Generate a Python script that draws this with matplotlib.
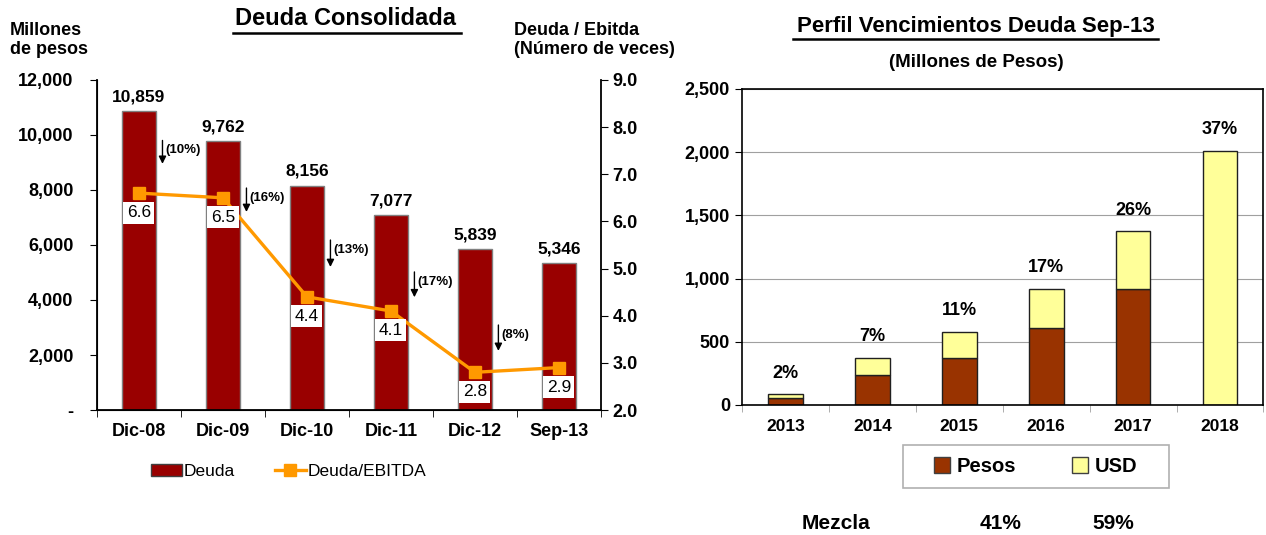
import matplotlib.pyplot as plt
from matplotlib.patches import Rectangle
from matplotlib.ticker import FuncFormatter, FixedLocator

plt.rcParams['font.family'] = ['Liberation Sans', 'DejaVu Sans']

# Deuda consolidada
periodos = ['Dic-08', 'Dic-09', 'Dic-10', 'Dic-11', 'Dic-12', 'Sep-13']
deuda = [10859, 9762, 8156, 7077, 5839, 5346]
deuda_ebitda = [6.6, 6.5, 4.4, 4.1, 2.8, 2.9]
variaciones = ['(10%)', '(16%)', '(13%)', '(17%)', '(8%)']
# top / bottom of each variation arrow (millones de pesos)
flecha_top = [9800, 8070, 6180, 5020, 3090]
flecha_bot = [8950, 7200, 5200, 4100, 2150]

# Perfil de vencimientos
anios = ['2013', '2014', '2015', '2016', '2017', '2018']
pesos = [53, 237, 371, 608, 918, 0]
usd = [31, 136, 208, 310, 458, 2010]
porcentajes = ['2%', '7%', '11%', '17%', '26%', '37%']
mezcla = ['41%', '59%']

ROJO = '#990000'
NARANJA = '#FF9900'
CAFE = '#993300'
AMARILLO = '#FFFF99'

fig = plt.figure(figsize=(12.66, 5.35), dpi=100)

# ---------------- left chart ----------------
ax = fig.add_axes([0.0766, 0.2336, 0.398, 0.617])
x = list(range(len(periodos)))
ax.bar(x, deuda, width=0.4, color=ROJO, edgecolor='#808080', linewidth=1.0, zorder=2)
ax.set_xlim(-0.5, len(periodos) - 0.5)
ax.set_ylim(0, 12000)
ax.set_yticks(range(0, 12001, 2000))
ax.yaxis.set_major_formatter(FuncFormatter(lambda v, p: '-' if v == 0 else f'{int(v):,}'))
ax.set_xticks(x)
ax.set_xticklabels(periodos, fontsize=13, fontweight='bold')
ax.xaxis.set_minor_locator(FixedLocator([i - 0.5 for i in range(len(periodos) + 1)]))
ax.tick_params(axis='x', which='major', length=0, pad=9)
ax.tick_params(axis='x', which='minor', length=5, color='black')
ax.tick_params(axis='y', labelsize=13, length=5, pad=12, direction='out')
for lbl in ax.get_yticklabels():
    lbl.set_fontweight('bold')
ax.spines['top'].set_visible(False)
ax.spines['right'].set_visible(False)
ax.spines['left'].set_linewidth(1.3)
ax.spines['bottom'].set_linewidth(1.3)

for xi, v in zip(x, deuda):
    ax.annotate(f'{v:,}', (xi, v), xytext=(0, 5), textcoords='offset points',
                ha='center', va='bottom', fontsize=12.5, fontweight='bold')

for i, txt in enumerate(variaciones):
    xa = i + 0.28
    ax.annotate('', xy=(xa, flecha_bot[i]), xytext=(xa, flecha_top[i]),
                arrowprops=dict(arrowstyle='-|>', color='black', lw=1.0,
                                mutation_scale=11, shrinkA=0, shrinkB=0), zorder=4)
    ax.text(xa + 0.03, flecha_top[i] - 350, txt, fontsize=9.5, fontweight='bold',
            ha='left', va='center', zorder=4)

ax2 = ax.twinx()
ax2.plot(x, deuda_ebitda, color=NARANJA, lw=2.4, marker='s', markersize=8, zorder=3)
ax2.set_ylim(2.0, 9.0)
ax2.set_yticks([2, 3, 4, 5, 6, 7, 8, 9])
ax2.yaxis.set_major_formatter(FuncFormatter(lambda v, p: f'{v:.1f}'))
ax2.tick_params(axis='y', labelsize=13, length=5, direction='out')
for lbl in ax2.get_yticklabels():
    lbl.set_fontweight('bold')
ax2.spines['top'].set_visible(False)
ax2.spines['right'].set_linewidth(1.3)
for xi, v in zip(x, deuda_ebitda):
    ax2.annotate(f'{v:.1f}', (xi, v), xytext=(0, -14), textcoords='offset points',
                 ha='center', va='center', fontsize=12.5, zorder=5,
                 bbox=dict(boxstyle='square,pad=0.2', fc='white', ec='none'))

fig.text(0.273, 0.965, 'Deuda Consolidada', ha='center', va='center',
         fontsize=17, fontweight='bold')
fig.add_artist(plt.Line2D([0.184, 0.364], [0.939, 0.939], color='black', lw=1.8))
fig.text(0.008, 0.925, 'Millones\nde pesos', ha='left', va='center',
         fontsize=13, fontweight='bold', linespacing=1.2)
fig.text(0.406, 0.925, 'Deuda / Ebitda\n(Número de veces)', ha='left', va='center',
         fontsize=13, fontweight='bold', linespacing=1.2)

h1 = Rectangle((0, 0), 1, 1, fc=ROJO, ec='#404040')
h2 = plt.Line2D([], [], color=NARANJA, lw=2.4, marker='s', markersize=8)
fig.legend([h1, h2], ['Deuda', 'Deuda/EBITDA'], loc='center',
           bbox_to_anchor=(0.228, 0.118), ncol=2, frameon=False, fontsize=12.5,
           handlelength=1.8, handletextpad=0.1, columnspacing=2.3)

# ---------------- right chart ----------------
bx = fig.add_axes([0.586, 0.243, 0.412, 0.5907])
xb = list(range(len(anios)))
bx.bar(xb, pesos, width=0.4, color=CAFE, edgecolor='#202020', linewidth=1.0, zorder=2)
bx.bar(xb, usd, width=0.4, bottom=pesos, color=AMARILLO, edgecolor='#202020',
       linewidth=1.0, zorder=2)
bx.set_xlim(-0.5, len(anios) - 0.5)
bx.set_ylim(0, 2500)
bx.set_yticks(range(0, 2501, 500))
bx.yaxis.set_major_formatter(FuncFormatter(lambda v, p: f'{int(v):,}'))
bx.grid(axis='y', color='#A0A0A0', lw=0.8, zorder=0)
bx.set_xticks(xb)
bx.set_xticklabels(anios, fontsize=12.5, fontweight='bold')
bx.xaxis.set_minor_locator(FixedLocator([i - 0.5 for i in range(len(anios) + 1)]))
bx.tick_params(axis='x', which='major', length=0, pad=10)
bx.tick_params(axis='x', which='minor', length=5, color='#A0A0A0')
bx.tick_params(axis='y', labelsize=13, length=5, direction='out')
for lbl in bx.get_yticklabels():
    lbl.set_fontweight('bold')
for s in bx.spines.values():
    s.set_linewidth(1.2)

for xi, p, u, t in zip(xb, pesos, usd, porcentajes):
    bx.annotate(t, (xi, p + u), xytext=(0, 9), textcoords='offset points',
                ha='center', va='bottom', fontsize=13, fontweight='bold')

fig.text(0.771, 0.951, 'Perfil Vencimientos Deuda Sep-13', ha='center', va='center',
         fontsize=16, fontweight='bold')
fig.add_artist(plt.Line2D([0.626, 0.915], [0.928, 0.928], color='black', lw=1.8))
fig.text(0.771, 0.884, '(Millones de Pesos)', ha='center', va='center',
         fontsize=13.5, fontweight='bold')

fig.add_artist(Rectangle((0.713, 0.088), 0.21, 0.08, transform=fig.transFigure,
                         fc='white', ec='#B0B0B0', lw=1.2))
hp = Rectangle((0, 0), 1, 1, fc=CAFE, ec='#404040')
hu = Rectangle((0, 0), 1, 1, fc=AMARILLO, ec='#404040')
fig.legend([hp, hu], ['Pesos', 'USD'], loc='center', bbox_to_anchor=(0.818, 0.128),
           ncol=2, frameon=False, prop={'size': 14.5, 'weight': 'bold'},
           handlelength=0.8, handleheight=0.8, handletextpad=0.3, columnspacing=2.8)

fig.text(0.66, 0.022, 'Mezcla', ha='center', va='center', fontsize=15, fontweight='bold')
fig.text(0.79, 0.022, mezcla[0], ha='center', va='center', fontsize=15, fontweight='bold')
fig.text(0.879, 0.022, mezcla[1], ha='center', va='center', fontsize=15, fontweight='bold')

fig.savefig('out.png', dpi=100)
